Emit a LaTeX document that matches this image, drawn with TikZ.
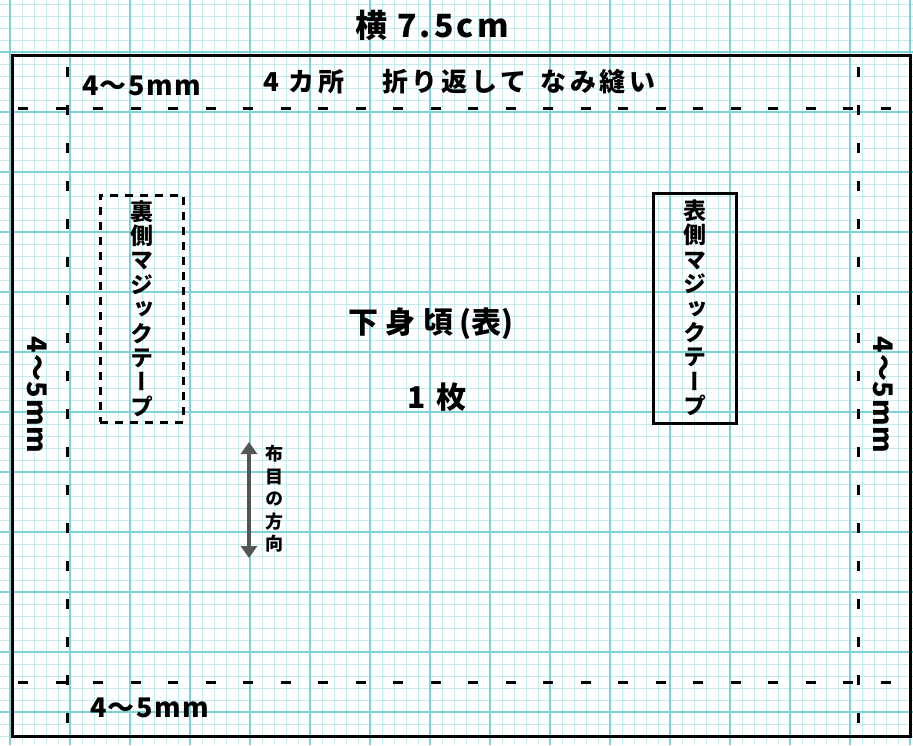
\documentclass[tikz,border=0pt]{standalone}
\usepackage{fontspec}
\usepackage{graphicx}
\setmainfont{Noto Sans CJK JP}
\newfontfamily\vfont{Noto Sans CJK JP}[RawFeature=+vert]
\usetikzlibrary{arrows.meta}
\definecolor{gridmajor}{HTML}{7FD3D8}
\definecolor{gridminor}{HTML}{C4EBED}
\definecolor{arrowgray}{HTML}{555555}
\tikzset{
  lbl/.style={inner sep=0pt, font=\bfseries},
  seam/.style={line width=3pt, dash pattern=on 10pt off 27.5pt},
  vtext/.style={inner sep=0pt, align=center, font=\vfont\bfseries\fontsize{23}{24.4}\selectfont},
  mmlabel/.style={lbl, font=\bfseries\fontsize{27}{27}\selectfont},
}
\begin{document}
\begin{tikzpicture}[x=1pt,y=-1pt]
\useasboundingbox (0,0) rectangle (913,745);
\fill[white] (0,0) rectangle (913,745);
% grid
\foreach \x in {10,22,...,910} \draw[gridminor,line width=0.9pt] (\x,0) -- (\x,745);
\foreach \y in {4,16,...,745} \draw[gridminor,line width=0.9pt] (0,\y) -- (913,\y);
\foreach \x in {10,70,...,910} \draw[gridmajor,line width=1.6pt] (\x,0) -- (\x,745);
\foreach \y in {52,112,...,712} \draw[gridmajor,line width=1.6pt] (0,\y) -- (913,\y);
% outer outline
\draw[line width=3pt] (12,55) rectangle (910,736);
% seam lines
\draw[seam] (18,108) -- (910,108);
\draw[seam] (18,682) -- (910,682);
\draw[seam, dash pattern=on 10pt off 28pt] (67,67) -- (67,736);
\draw[seam, dash pattern=on 10pt off 28pt] (858,67) -- (858,736);
% texts
\node[lbl, font=\bfseries\fontsize{32}{32}\selectfont] (title) at (432,25) {横\hspace{10pt}\addfontfeature{LetterSpace=10}7.5cm};
\node[mmlabel, anchor=west] (topmm) at (82,86) {\addfontfeature{LetterSpace=5}4～5mm};
\node[lbl, anchor=west, font=\bfseries\fontsize{26}{26}\selectfont] (note) at (263,82) {\addfontfeature{LetterSpace=14}4 カ所\hspace{38pt}折り返して\hspace{5pt} なみ縫い};
\node[mmlabel, anchor=west] (botmm) at (90,708) {\addfontfeature{LetterSpace=5}4～5mm};
\node[mmlabel, rotate=-90] (leftmm) at (37,395) {\addfontfeature{LetterSpace=3}4～5mm};
\node[mmlabel, rotate=-90] (rightmm) at (883,395) {\addfontfeature{LetterSpace=3}4～5mm};
\node[lbl, font=\bfseries\fontsize{30}{30}\selectfont] (main) at (431,324) {下\kern8pt身\kern8pt頃\kern6pt(表)};
\node[lbl, font=\bfseries\fontsize{30}{30}\selectfont] (count) at (437,397) {1\hspace{10pt}枚};
% tape boxes
\node[vtext, draw, line width=3pt, dash pattern=on 8pt off 7pt, minimum width=83pt, minimum height=227pt] (back) at (141.5,308.5) {裏\\側\\マ\\ジ\\ッ\\ク\\テ\\ー\\プ};
\node[vtext, draw, line width=3pt, minimum width=83pt, minimum height=230pt] (front) at (694.5,308) {表\\側\\マ\\ジ\\ッ\\ク\\テ\\ー\\プ};
% grain arrow
\coordinate (arrT) at (249,442);
\coordinate (arrB) at (249,558);
\draw[arrowgray, line width=4pt, {Triangle[length=12pt,width=16pt]}-{Triangle[length=12pt,width=16pt]}] (arrT) -- (arrB);
\node[inner sep=0pt, align=center, font=\vfont\bfseries\fontsize{18}{22.5}\selectfont] (grain) at (274,499) {布\\目\\の\\方\\向};
\end{tikzpicture}
\end{document}
